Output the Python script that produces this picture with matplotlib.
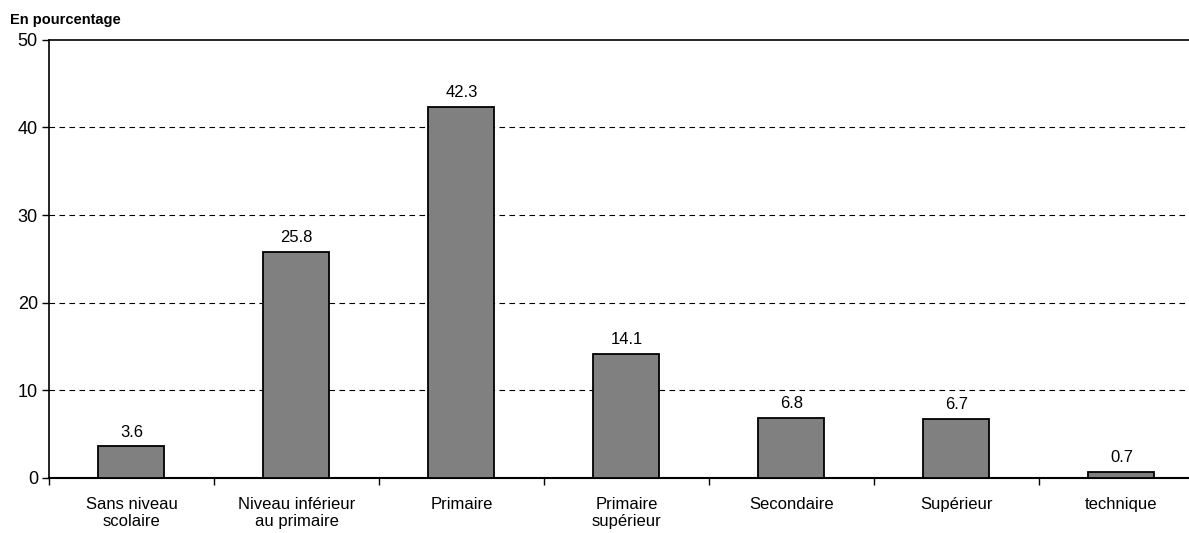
import numpy as np
import matplotlib.pyplot as plt

plt.rcParams['font.family'] = ['Liberation Sans', 'DejaVu Sans']

# ---------------- Data ----------------
categories = ["Sans niveau\nscolaire", "Niveau inférieur\nau primaire", "Primaire",
              "Primaire\nsupérieur", "Secondaire", "Supérieur", "technique"]
values = [3.6, 25.8, 42.3, 14.1, 6.8, 6.7, 0.7]
yticks = [0, 10, 20, 30, 40, 50]

# ---------------- Plot ----------------
fig = plt.figure(figsize=(11.89, 5.33), dpi=100)
ax = fig.add_axes([0.0412, 0.1032, 0.9714, 0.822])

x = np.arange(len(categories))
ax.bar(x, values, width=0.4, color="#808080", edgecolor="black", linewidth=1.3, zorder=3)

for xi, v in zip(x, values):
    ax.annotate(f"{v:.1f}", (xi, v), xytext=(0, 5), textcoords="offset points",
                ha="center", va="bottom", fontsize=12)

ax.set_xlim(-0.5, len(categories) - 0.5)
ax.set_ylim(0, 50)
ax.set_yticks(yticks)
ax.tick_params(axis="y", labelsize=13, length=5, width=1, pad=3)

ax.set_xticks(x)
ax.set_xticklabels(categories, fontsize=12, va="top", linespacing=1.15)
ax.set_xticks(np.arange(len(categories)) - 0.5, minor=True)
ax.tick_params(axis="x", which="major", length=0, pad=14)
ax.tick_params(axis="x", which="minor", length=5, width=1)

for y in yticks[1:-1]:
    ax.axhline(y, color="black", linestyle=(0, (5, 4)), linewidth=0.8, zorder=1)

ax.spines["right"].set_visible(False)
ax.spines["top"].set_linewidth(1.2)
ax.spines["left"].set_linewidth(1.2)
ax.spines["bottom"].set_linewidth(1.5)

fig.text(0.008, 0.962, "En pourcentage", fontsize=10.5, fontweight="bold", va="center")

fig.savefig("out.png", dpi=100)
